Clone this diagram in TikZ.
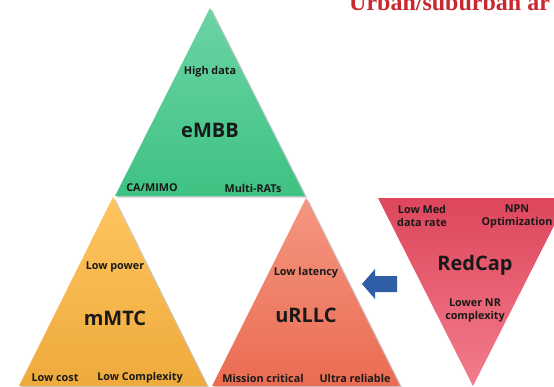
\documentclass[tikz,border=0pt]{standalone}
\usepackage{fontspec}
\setmainfont{Open Sans}
\newfontfamily\titlefont{Liberation Serif}
\usetikzlibrary{shadows}
\definecolor{embbtop}{RGB}{108,212,165}
\definecolor{embbbot}{RGB}{62,194,130}
\definecolor{mmtctop}{RGB}{255,197,95}
\definecolor{mmtcbot}{RGB}{238,170,60}
\definecolor{urlltop}{RGB}{245,150,130}
\definecolor{urllbot}{RGB}{234,108,82}
\definecolor{redtop}{RGB}{222,70,92}
\definecolor{redbot}{RGB}{242,125,140}
\definecolor{arrowblue}{RGB}{46,95,166}
\definecolor{titlered}{RGB}{200,40,46}
\begin{document}
\begin{tikzpicture}[x=1pt,y=-1pt,
  lbl/.style={font=\bfseries\fontsize{10.8}{13}\selectfont, align=center, inner sep=0pt, text=black!90},
  big/.style={font=\bfseries\fontsize{20}{22}\selectfont, inner sep=0pt, text=black!90},
  tri/.style={drop shadow={shadow xshift=2pt, shadow yshift=-1.5pt, opacity=0.35, fill=black!60}}]
\useasboundingbox (0,0) rectangle (554,386);
\fill[white] (0,0) rectangle (554,386);
% title (cut off at the top)
\node[anchor=base west, inner sep=0pt, font=\titlefont\bfseries\fontsize{24}{26}\selectfont, text=titlered] (title) at (349,10) {Urban/suburban ar};
% triangles
\shade[tri, top color=embbtop, bottom color=embbbot] (210,8) -- (305,196) -- (115,196) -- cycle;
\shade[tri, top color=mmtctop, bottom color=mmtcbot] (113,197) -- (207,386) -- (19,386) -- cycle;
\shade[tri, top color=urlltop, bottom color=urllbot] (306,198) -- (400,386) -- (212,386) -- cycle;
\shade[top color=redtop, bottom color=redbot] (378,198) -- (568,198) -- (473,386) -- cycle;
% arrow
\fill[arrowblue] (362,284) -- (375,269) -- (375,276) -- (397,276) -- (397,292) -- (375,292) -- (375,299) -- cycle;
% eMBB
\node[lbl] (hd) at (210,72) {High data};
\node[big] (embb) at (210,130) {eMBB};
\node[lbl] (ca) at (152,188) {CA/MIMO};
\node[lbl] (mr) at (253,188) {Multi-RATs};
% mMTC
\node[lbl] (lp) at (115,267) {Low power};
\node[big] (mmtc) at (115,318) {mMTC};
\node[lbl] (lc) at (55,378) {Low cost};
\node[lbl] (lcx) at (140,378) {Low Complexity};
% uRLLC
\node[lbl] (ll) at (306,273) {Low latency};
\node[big] (urllc) at (306,315) {uRLLC};
\node[lbl] (mc) at (263,378) {Mission critical};
\node[lbl] (ur) at (355,378) {Ultra reliable};
% RedCap
\node[lbl] (lm) at (422,216) {Low Med\\data rate};
\node[lbl] (npn) at (517,216) {NPN\\Optimization};
\node[big] (redcap) at (475,265) {RedCap};
\node[lbl] (lnr) at (475,310) {Lower NR\\complexity};
\end{tikzpicture}
\end{document}
